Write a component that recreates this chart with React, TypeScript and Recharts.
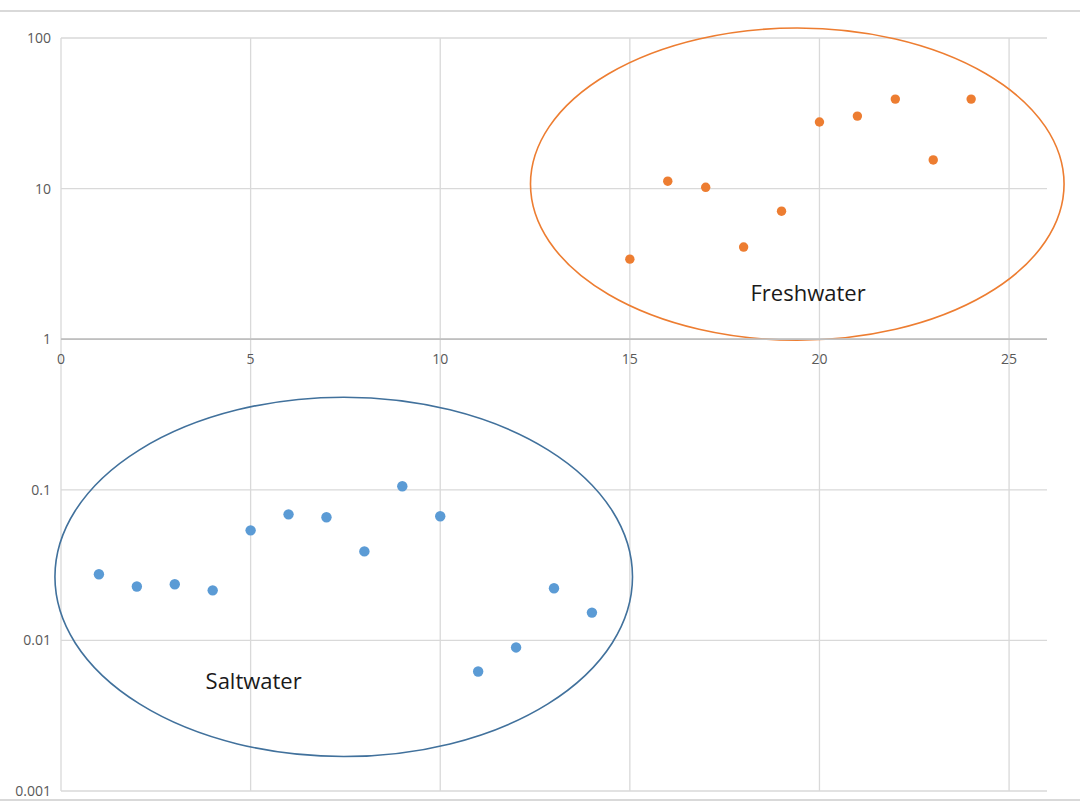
import React from 'react';
import {
  ScatterChart, Scatter, XAxis, YAxis, CartesianGrid, ReferenceLine, ReferenceArea, ReferenceDot,
} from 'recharts';

const saltX = [1, 2, 3, 4, 5, 6, 7, 8, 9, 10, 11, 12, 13, 14];
const saltY = [0.0275, 0.0228, 0.0236, 0.0215, 0.0538, 0.0687, 0.0657, 0.039, 0.1055, 0.0667, 0.00622, 0.00898, 0.0222, 0.0153];
const freshX = [15, 16, 17, 18, 19, 20, 21, 22, 23, 24];
const freshY = [3.4, 11.2, 10.2, 4.09, 7.08, 27.7, 30.3, 39.3, 15.5, 39.3];

const xTicks = [0, 5, 10, 15, 20, 25];
const yTicks = [0.001, 0.01, 0.1, 1, 10, 100];

const saltData = saltX.map((x, i) => ({ x, y: saltY[i] }));
const freshData = freshX.map((x, i) => ({ x, y: freshY[i] }));

const FONT = '"Open Sans", "Liberation Sans", sans-serif';

const fmtY = (v: number) => {
  if (v >= 1) return String(v);
  return v.toFixed(Math.round(-Math.log10(v)));
};

const ellipseShape = (color: string) => (p: any) => (
  <ellipse
    cx={p.x + p.width / 2}
    cy={p.y + p.height / 2}
    rx={Math.abs(p.width) / 2}
    ry={Math.abs(p.height) / 2}
    fill="none"
    stroke={color}
    strokeWidth={1.6}
  />
);

const textShape = (label: string) => (p: any) => (
  <text x={p.cx} y={p.cy} textAnchor="middle" dominantBaseline="central" fontFamily={FONT} fontSize={22} fill="#1a1a1a">
    {label}
  </text>
);

const xTickShape = (label: string) => (p: any) => (
  <text x={p.cx} y={p.cy + 19} textAnchor="middle" dominantBaseline="central" fontFamily={FONT} fontSize={14} fill="#595959">
    {label}
  </text>
);

const vGen = (props: any) => {
  const s = props?.xAxis?.scale;
  if (typeof s === 'function') return xTicks.map((t) => s(t));
  if (s && typeof s.map === 'function') return xTicks.map((t) => s.map(t));
  const off = props?.offset;
  if (off) return xTicks.map((t) => off.left + (t / 26) * off.width);
  return [];
};

export default function App() {
  return (
    <div style={{ position: 'absolute', left: 0, top: 0, width: 1080, height: 810, background: '#fff' }}>
      <div style={{ position: 'absolute', left: 0, top: 10, width: 1080, height: 791, borderTop: '2px solid #d9d9d9', borderBottom: '2px solid #d9d9d9', boxSizing: 'border-box' }} />
      <div style={{ position: 'absolute', left: 0, top: 0 }}>
        <ScatterChart width={1080} height={810} margin={{ top: 38, right: 33, bottom: 19, left: 0 }}>
          <CartesianGrid stroke="#d9d9d9" strokeWidth={1.3} verticalCoordinatesGenerator={vGen} />
          <XAxis type="number" dataKey="x" domain={[0, 26]} ticks={xTicks} hide allowDataOverflow />
          <YAxis
            type="number"
            dataKey="y"
            scale="log"
            domain={[0.001, 100]}
            ticks={yTicks}
            tickFormatter={fmtY}
            width={61}
            axisLine={false}
            tickLine={false}
            tickMargin={4}
            allowDataOverflow
            tick={{ fill: '#595959', fontSize: 14, fontFamily: FONT }}
          />
          <ReferenceLine y={1} stroke="#bfbfbf" strokeWidth={1.8} />
          {xTicks.map((t) => (
            <ReferenceDot key={t} x={t} y={1} r={0} ifOverflow="visible" shape={xTickShape(String(t))} />
          ))}
          <ReferenceArea x1={12.38} x2={26.45} y1={0.985} y2={116.5} ifOverflow="visible" shape={ellipseShape('#ED7D31')} />
          <ReferenceArea x1={-0.16} x2={15.07} y1={0.001694} y2={0.412} ifOverflow="visible" shape={ellipseShape('#41719C')} />
          <ReferenceDot x={19.7} y={2.05} r={0} ifOverflow="visible" shape={textShape('Freshwater')} />
          <ReferenceDot x={5.08} y={0.00542} r={0} ifOverflow="visible" shape={textShape('Saltwater')} />
          <Scatter data={saltData} fill="#5B9BD5" isAnimationActive={false} shape={(p: any) => <circle cx={p.cx} cy={p.cy} r={5.2} fill="#5B9BD5" />} />
          <Scatter data={freshData} fill="#ED7D31" isAnimationActive={false} shape={(p: any) => <circle cx={p.cx} cy={p.cy} r={4.7} fill="#ED7D31" />} />
        </ScatterChart>
      </div>
    </div>
  );
}
